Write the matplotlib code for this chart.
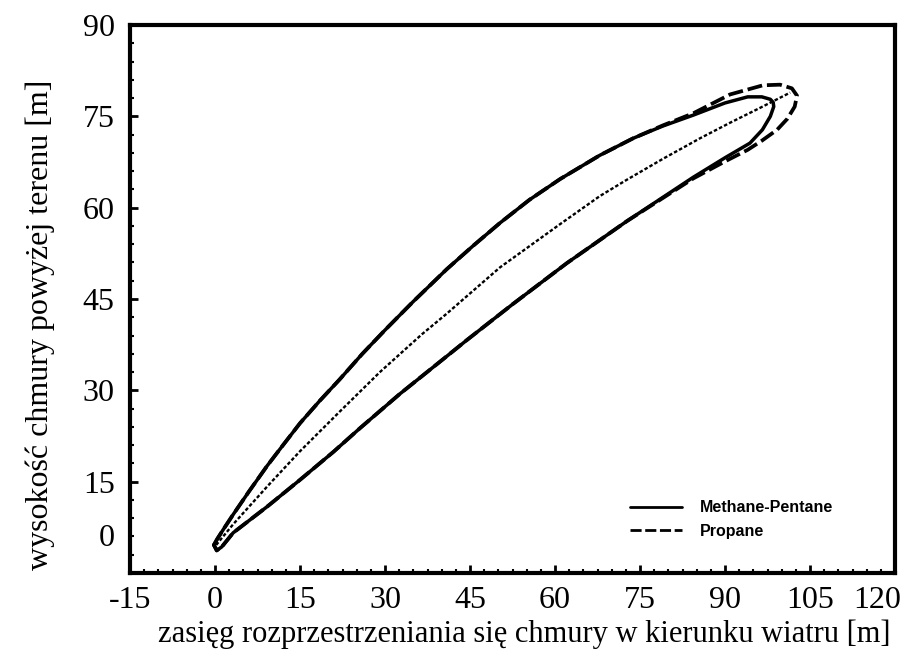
import matplotlib
matplotlib.use("Agg")
import matplotlib.pyplot as plt
from matplotlib.ticker import MultipleLocator
from matplotlib.transforms import blended_transform_factory, offset_copy

# Methane-Pentane (linia ciągła) - kontur chmury, od ogona przez górę, czubek i z powrotem dołem
mp_x = [-0.2, 0.4, 1.5, 3.2, 6.0, 9.2, 12.0, 15.0, 18.5, 22.0, 26.0, 30.0, 35.0, 40.9, 45.5,
        50.3, 55.5, 60.9, 67.9, 73.8, 79.0, 84.4, 90.0, 94.0, 96.5, 98.0, 98.5,
        98.6, 98.0, 96.6, 94.4, 90.0, 84.4, 72.7, 62.1, 52.6, 44.5, 40.9, 32.6, 25.6, 20.9,
        15.0, 9.2, 3.2, 1.2, 0.3, -0.2]
mp_y = [4.6, 5.6, 7.2, 9.6, 13.4, 17.6, 21.0, 24.6, 28.3, 31.8, 36.0, 39.9, 44.6, 49.9, 53.7,
        57.5, 61.3, 64.7, 68.6, 71.4, 73.4, 75.2, 77.2, 78.2, 78.2, 77.8, 77.3,
        76.6, 75.0, 72.8, 70.6, 68.2, 65.0, 57.8, 50.9, 44.2, 38.3, 35.6, 29.4, 23.8, 19.9,
        15.3, 10.9, 6.6, 4.3, 3.7, 4.6]

# Propane (linia kreskowa)
pr_x = [-0.2, 0.4, 1.5, 3.2, 6.0, 9.2, 12.0, 15.0, 18.5, 22.0, 26.0, 30.0, 35.0, 40.9, 45.5,
        50.3, 55.5, 60.9, 67.9, 73.8, 79.0, 84.4, 90.9, 96.7, 99.7, 101.8, 102.7,
        102.3, 101.0, 99.2, 96.5, 94.0, 90.0, 84.4, 72.7, 62.1, 52.6, 44.5, 40.9, 32.6, 25.6,
        20.9, 15.0, 9.2, 3.2, 1.2, 0.3, -0.2]
pr_y = [4.6, 5.6, 7.2, 9.6, 13.4, 17.6, 21.0, 24.6, 28.3, 31.8, 36.0, 39.9, 44.6, 49.9, 53.7,
        57.5, 61.3, 64.7, 68.6, 71.4, 73.5, 75.5, 78.6, 80.1, 80.2, 79.6, 78.4,
        76.6, 74.6, 72.8, 71.0, 69.5, 67.6, 64.8, 57.8, 50.9, 44.2, 38.3, 35.6, 29.4, 23.8,
        19.9, 15.3, 10.9, 6.6, 4.3, 3.7, 4.6]

# oś chmury (kropkowana)
os_x = [0.2, 3.2, 9.2, 15.0, 22.0, 29.1, 36.5, 40.9, 50.3, 60.9, 67.9, 72.7, 79.0, 85.6, 91.0, 96.2, 101.5]
os_y = [4.6, 8.0, 14.2, 20.0, 26.5, 33.0, 39.2, 42.6, 50.2, 57.3, 61.9, 64.6, 68.0, 71.4, 74.0, 76.4, 78.9]

x_ticks = [-15, 0, 15, 30, 45, 60, 75, 90, 105, 120]
y_ticks = [0, 15, 30, 45, 60, 75, 90]

serif = "Liberation Serif"

fig = plt.figure(figsize=(9.13, 6.53), dpi=100)
ax = fig.add_axes([0.1424, 0.1225, 0.8379, 0.8392])

ax.plot(mp_x, mp_y, color="black", lw=2.5, solid_capstyle="round", label="Methane-Pentane")
ax.plot(pr_x, pr_y, color="black", lw=2.7, dashes=(4, 1.3), label="Propane")
ax.plot(os_x, os_y, color="black", lw=1.7, dashes=(1.5, 0.9))

ax.set_xlim(-15, 120)
ax.set_ylim(0, 90)
ax.set_xticks(x_ticks)
ax.set_yticks(y_ticks)
ax.xaxis.set_minor_locator(MultipleLocator(2.5))
ax.yaxis.set_minor_locator(MultipleLocator(3))

for s in ax.spines.values():
    s.set_linewidth(3)
ax.tick_params(which="major", direction="in", length=6, width=2, top=False, right=False)
ax.tick_params(which="minor", direction="in", length=3, width=1.5, top=False, right=False)
ax.tick_params(axis="x", which="major", pad=9)
ax.tick_params(axis="y", which="major", pad=11)

xlabels = [str(v) for v in x_ticks]
xlabels[-1] = ""
ax.set_xticklabels(xlabels, fontfamily=serif, fontsize=23)
ylabels = [str(v) for v in y_ticks]
ylabels[0] = ""
ax.set_yticklabels(ylabels, fontfamily=serif, fontsize=23)

# etykieta "0" na osi Y stoi w oryginale wyżej niż sama oś
tr_y = offset_copy(blended_transform_factory(ax.transAxes, ax.transData), fig=fig, x=-11, y=25, units="points")
ax.text(0, y_ticks[0], "0", transform=tr_y, ha="right", va="center", fontfamily=serif, fontsize=23)
# ostatnia etykieta osi X przesunięta w lewo, żeby zmieściła się w obrazku
tr_x = offset_copy(blended_transform_factory(ax.transData, ax.transAxes), fig=fig, x=-13, y=-9, units="points")
ax.text(x_ticks[-1], 0, str(x_ticks[-1]), transform=tr_x, ha="center", va="top", fontfamily=serif, fontsize=23)

ax.set_xlabel("zasięg rozprzestrzeniania się chmury w kierunku wiatru [m]",
              fontfamily=serif, fontsize=22)
ax.xaxis.set_label_coords(0.515, -0.085)
ax.set_ylabel("wysokość chmury powyżej terenu [m]", fontfamily=serif, fontsize=23)
ax.yaxis.set_label_coords(-0.098, 0.453)

leg = ax.legend(loc="upper left", bbox_to_anchor=(0.654, 0.133), frameon=False,
                handlelength=3.25, handletextpad=1.1, labelspacing=0.55, borderaxespad=0, borderpad=0,
                prop={"family": "Liberation Sans", "weight": "bold", "size": 11.5})
for h in leg.get_lines():
    h.set_linewidth(2)

fig.savefig("out.png", dpi=100)
